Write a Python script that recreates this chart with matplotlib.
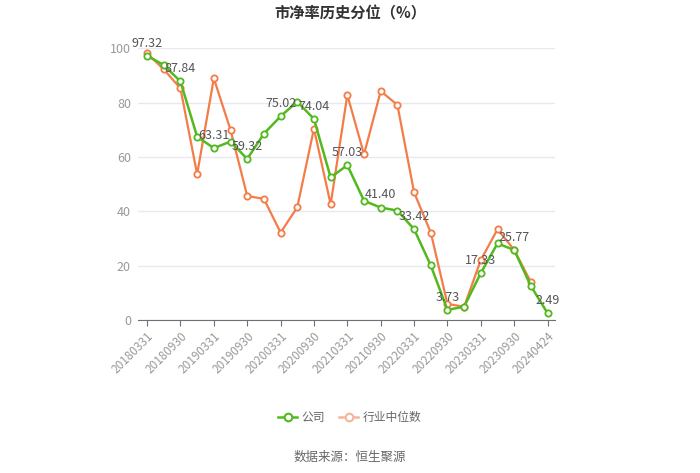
import matplotlib
matplotlib.use("Agg")
import matplotlib.pyplot as plt
from matplotlib.lines import Line2D

plt.rcParams['font.family'] = ['Noto Sans CJK SC', 'DejaVu Sans']

categories = ['20180331', '20180630', '20180930', '20181231',
              '20190331', '20190630', '20190930', '20191231',
              '20200331', '20200630', '20200930', '20201231',
              '20210331', '20210630', '20210930', '20211231',
              '20220331', '20220630', '20220930', '20221231',
              '20230331', '20230630', '20230930', '20231231',
              '20240424']
company = [97.32, 93.9, 87.84, 67.5, 63.31, 65.7, 59.32, 68.6, 75.02, 80.4,
           74.04, 52.5, 57.03, 43.9, 41.40, 40.3, 33.42, 20.1, 3.73, 4.9,
           17.33, 28.2, 25.77, 12.5, 2.49]
industry = [98.2, 92.3, 85.3, 53.7, 89.0, 70.0, 45.7, 44.6, 32.2, 41.5,
            70.5, 42.6, 82.9, 61.0, 84.3, 79.2, 47.0, 32.2, 5.9, 4.9,
            22.1, 33.4, 25.8, 13.9]
yticks = [0, 20, 40, 60, 80, 100]

green = '#52b91f'
orange = '#f47c48'

fig = plt.figure(figsize=(7, 4.73), dpi=100)
ax = fig.add_axes([0.197, 0.3235, 0.596, 0.574])

x = list(range(len(categories)))
ax.plot(x[:len(industry)], industry, color=orange, lw=1.6, marker='o', ms=4.5,
        mfc='white', mec=orange, mew=1.3, zorder=3)
ax.plot(x, company, color=green, lw=1.8, marker='o', ms=4.5,
        mfc='white', mec=green, mew=1.3, zorder=4)

for i in range(0, len(company), 2):
    ax.annotate(f'{company[i]:.2f}', (i, company[i]), xytext=(0, 4.5),
                textcoords='offset points', ha='center', va='bottom',
                fontsize=9, color='#555555', zorder=5)

ax.set_xlim(-0.55, 24.45)
ax.set_ylim(0, 100)
ax.set_yticks(yticks)
ax.set_yticklabels([str(v) for v in yticks], color='#999999', fontsize=9)
ax.grid(axis='y', color='#e6e9f0', lw=1)
ax.set_axisbelow(True)

tick_idx = list(range(0, len(categories), 2))
ax.set_xticks(tick_idx)
ax.set_xticklabels([categories[i] for i in tick_idx], rotation=45, ha='right',
                   rotation_mode='anchor', color='#999999', fontsize=8.5)
ax.tick_params(axis='x', length=4, color='#6e7079', pad=3)
ax.tick_params(axis='y', length=0, pad=5)
for s in ['top', 'right', 'left']:
    ax.spines[s].set_visible(False)
ax.spines['bottom'].set_color('#6e7079')

fig.text(0.5, 0.972, '市净率历史分位（%）', ha='center', va='center',
         fontsize=11, fontweight='bold', color='#333333')

handles = [Line2D([0], [0], color=green, lw=1.8, marker='o', ms=5.5, mfc='white', mec=green, mew=1.5),
           Line2D([0], [0], color='#f6b59a', lw=1.8, marker='o', ms=5.5, mfc='white', mec='#f6b59a', mew=1.5)]
fig.legend(handles, ['公司', '行业中位数'], loc='center', bbox_to_anchor=(0.5, 0.118),
           ncol=2, frameon=False, fontsize=8.5, labelcolor='#666666',
           handlelength=1.6, columnspacing=1.2, handletextpad=0.4)

fig.text(0.5, 0.034, '数据来源：恒生聚源', ha='center', va='center',
         fontsize=9, color='#666666')

fig.savefig('out.png', dpi=100)
